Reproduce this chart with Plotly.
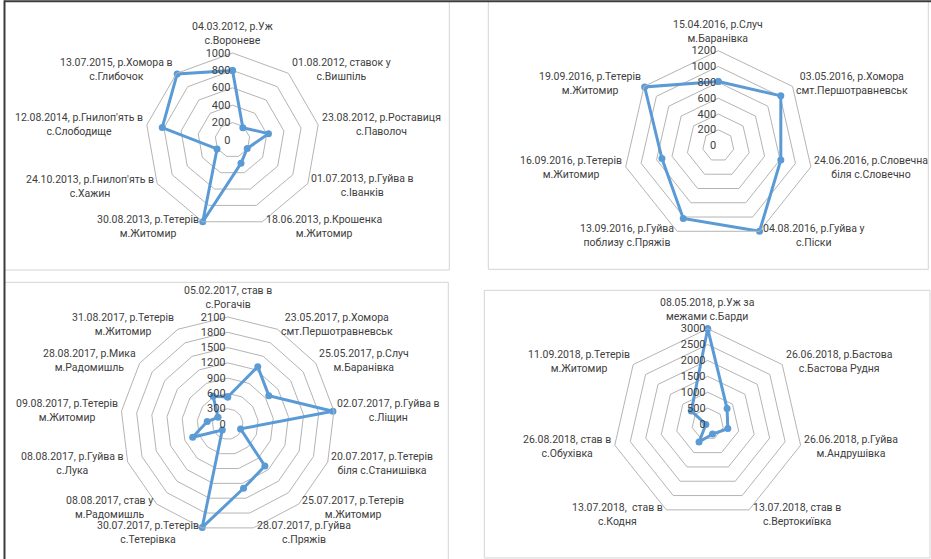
import math
import plotly.graph_objects as go

W, H = 931, 559

# --- 2012–2015 sampling points ---
labels_2012 = [
    "04.03.2012, р.Уж<br>с.Вороневе",
    "01.08.2012, ставок у<br>с.Вишпіль",
    "23.08.2012, р.Роставиця<br>с.Паволоч",
    "01.07.2013, р.Гуйва в<br>с.Іванків",
    "18.06.2013, р.Крошенка<br>м.Житомир",
    "30.08.2013, р.Тетерів<br>м.Житомир",
    "24.10.2013, р.Гнилоп'ять в<br>с.Хажин",
    "12.08.2014, р.Гнилоп'ять в<br>с.Слободище",
    "13.07.2015, р.Хомора в<br>с.Глибочок",
]
values_2012 = [800, 185, 420, 195, 285, 1000, 205, 820, 990]

# --- 2016 sampling points ---
labels_2016 = [
    "15.04.2016, р.Случ<br>м.Баранівка",
    "03.05.2016, р.Хомора<br>смт.Першотравневськ",
    "24.06.2016, р.Словечна<br>біля с.Словечно",
    "04.08.2016, р.Гуйва у<br>с.Піски",
    "13.09.2016, р.Гуйва<br>поблизу с.Пряжів",
    "16.09.2016, р.Тетерів<br>м.Житомир",
    "19.09.2016, р.Тетерів<br>м.Житомир",
]
values_2016 = [810, 1010, 810, 1200, 1020, 730, 1190]

# --- 2017 sampling points ---
labels_2017 = [
    "05.02.2017, став в<br>с.Рогачів",
    "23.05.2017, р.Хомора<br>смт.Першотравневськ",
    "25.05.2017, р.Случ<br>м.Баранівка",
    "02.07.2017, р.Гуйва в<br>с.Ліщин",
    "20.07.2017, р.Тетерів<br>біля с.Станишівка",
    "25.07.2017, р.Тетерів<br>м.Житомир",
    "28.07.2017, р.Гуйва<br>с.Пряжів",
    "30.07.2017, р.Тетерів<br>с.Тетерівка",
    "08.08.2017, став у<br>м.Радомишль",
    "08.08.2017, р.Гуйва в<br>с.Лука",
    "09.08.2017, р.Тетерів<br>м.Житомир",
    "28.08.2017, р.Мика<br>м.Радомишль",
    "31.08.2017, р.Тетерів<br>м.Житомир",
]
values_2017 = [530, 1270, 980, 2080, 270, 1100, 1300, 2090, 160, 735, 405, 230, 615]

# --- 2018 sampling points ---
labels_2018 = [
    "08.05.2018, р.Уж за<br>межами с.Барди",
    "26.06.2018, р.Бастова<br>с.Бастова Рудня",
    "26.06.2018, р.Гуйва<br>м.Андрушівка",
    "13.07.2018, став в<br>с.Вертокиївка",
    "13.07.2018,  став в<br>с.Кодня",
    "26.08.2018, став в<br>с.Обухівка",
    "11.09.2018, р.Тетерів<br>м.Житомир",
]
values_2018 = [3000, 780, 650, 350, 630, 60, 660]

# radial axis maxima and steps
radial_max = [1000, 1200, 2100, 3000]
radial_step = [200, 200, 300, 500]

BLUE = "#5B9BD5"
GRID = "#B4B4B4"
TEXT = "#404040"
FONT = "Roboto"
FRAME = "#D4D4D4"
EDGE = "#3C3C3C"
LABEL_SIZE = 10.5


def px_x(x):
    return x / W


def px_y(y):
    return 1 - y / H


def domain(cx, cy, r):
    """Square polar domain centred at pixel (cx, cy) with radius r."""
    return dict(x=[px_x(cx - r), px_x(cx + r)],
                y=[px_y(cy + r), px_y(cy - r)])


# centre x, centre y, outer radius (pixels)
geometry = [
    (232.5, 140.0, 87.0),
    (718.3, 145.7, 95.0),
    (227.7, 424.0, 107.0),
    (707.7, 424.0, 95.3),
]

datasets = [
    (labels_2012, values_2012),
    (labels_2016, values_2016),
    (labels_2017, values_2017),
    (labels_2018, values_2018),
]

fig = go.Figure()

for i, ((cats, vals), geom, rmax, step) in enumerate(
        zip(datasets, geometry, radial_max, radial_step)):
    key = "polar" if i == 0 else f"polar{i + 1}"
    fig.add_trace(go.Scatterpolar(
        r=vals + vals[:1],
        theta=cats + cats[:1],
        mode="lines+markers",
        line=dict(color=BLUE, width=3),
        marker=dict(size=7, color=BLUE),
        subplot=key,
        showlegend=False,
        cliponaxis=False,
        hoverinfo="skip",
    ))
    fig.update_layout({key: dict(
        domain=domain(*geom),
        gridshape="linear",
        bgcolor="rgba(0,0,0,0)",
        radialaxis=dict(
            range=[0, rmax], tick0=0, dtick=step,
            angle=90, side="counterclockwise", tickangle=90,
            showline=False, ticks="",
            gridcolor=GRID, gridwidth=1,
            tickfont=dict(family=FONT, size=11, color=TEXT),
        ),
        angularaxis=dict(
            rotation=90, direction="clockwise",
            showgrid=False, showline=True, linecolor=GRID, linewidth=1,
            ticks="", showticklabels=False,
        ),
    )})

    # category captions beside each vertex of the outer ring, centred text
    cx, cy, rad = geom
    n = len(cats)
    for k, lab in enumerate(cats):
        th = 2 * math.pi * k / n
        s, c = math.sin(th), math.cos(th)
        vx, vy = cx + rad * s, cy - rad * c
        if abs(s) < 0.15:
            xa, x = "center", vx
            ya, y = ("bottom", vy - 5) if c > 0 else ("top", vy + 5)
        else:
            xa = "left" if s > 0 else "right"
            x = vx + (2.5 if s > 0 else -2.5)
            ya, y = "middle", vy - 5 * c
        fig.add_annotation(
            text=lab, xref="paper", yref="paper",
            x=px_x(x), y=px_y(y), xanchor=xa, yanchor=ya,
            align="center", showarrow=False, borderpad=0,
            font=dict(family=FONT, size=LABEL_SIZE, color=TEXT),
        )


def seg(x0, y0, x1, y1, color, width):
    fig.add_shape(type="line", xref="paper", yref="paper",
                  x0=px_x(x0), y0=px_y(y0), x1=px_x(x1), y1=px_y(y1),
                  line=dict(color=color, width=width), layer="below")


# panel frames
seg(488.3, 1.5, 488.3, 269.3, FRAME, 1)
seg(928.3, 1.5, 928.3, 269.3, FRAME, 1)
seg(488.3, 269.3, 928.3, 269.3, FRAME, 1)
seg(449.3, 1.5, 449.3, 270.0, FRAME, 1)
seg(4.5, 270.0, 449.3, 270.0, FRAME, 1)
seg(4.5, 282.3, 448.3, 282.3, FRAME, 1)
seg(448.3, 282.3, 448.3, 559, FRAME, 1)
seg(484.3, 290.3, 930.0, 290.3, FRAME, 1)
seg(484.3, 290.3, 484.3, 558.0, FRAME, 1)
seg(930.0, 290.3, 930.0, 558.0, FRAME, 1)
seg(484.3, 558.0, 930.0, 558.0, FRAME, 1)
# outer dark edges
seg(4.0, 1.3, 931, 1.3, EDGE, 2)
seg(4.5, 0.5, 4.5, 559, EDGE, 2)

fig.update_layout(
    width=W, height=H,
    margin=dict(l=0, r=0, t=0, b=0),
    paper_bgcolor="white",
    plot_bgcolor="white",
    showlegend=False,
    font=dict(family=FONT, size=11, color=TEXT),
)

fig.write_html("out.html")
